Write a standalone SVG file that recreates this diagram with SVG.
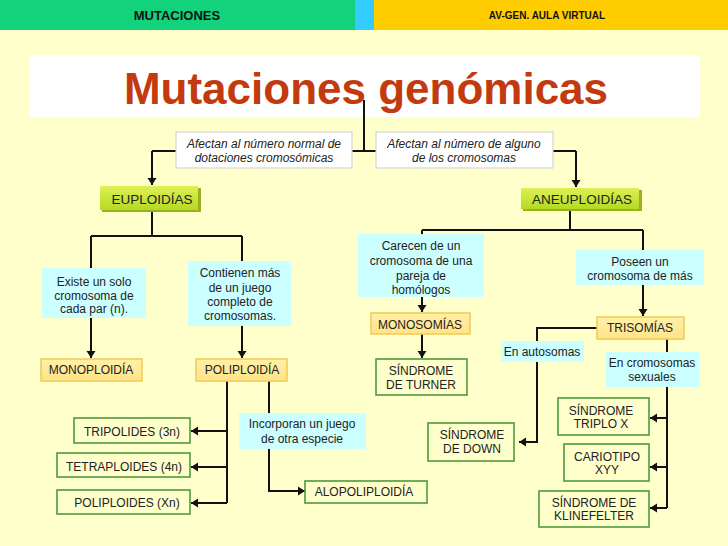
<svg xmlns="http://www.w3.org/2000/svg" width="728" height="546" viewBox="0 0 728 546">
<defs>
<marker id="ah" markerUnits="userSpaceOnUse" markerWidth="8" markerHeight="10" refX="7" refY="5" orient="auto"><path d="M0,0.5 L7,5 L0,9.5 z" fill="#111"/></marker>
<linearGradient id="gg" x1="0" y1="0" x2="0" y2="1"><stop offset="0" stop-color="#DDF055"/><stop offset="1" stop-color="#B5DA22"/></linearGradient>
<linearGradient id="yg" x1="0" y1="0" x2="0" y2="1"><stop offset="0" stop-color="#FFF0A8"/><stop offset="1" stop-color="#FFE488"/></linearGradient>
</defs>
<style>
.t{font-family:"Liberation Sans",Arial,sans-serif;font-size:12px;fill:#222;text-anchor:middle}
.it{font-style:italic}
.big{font-size:13.5px}
.cy{fill:#CCFFFF}
.yl{fill:url(#yg);stroke:#F0CA55;stroke-width:1.5}
.gr{fill:#FFFFCC;stroke:#4E9A3A;stroke-width:1.6}
.wh{fill:#FFFFFF;stroke:#D4D4D4;stroke-width:1.2}
.gb{fill:url(#gg)}
.sh{fill:#9AB020}
.c path{fill:none;stroke:#111;stroke-width:2}
</style>
<rect width="728" height="546" fill="#FFFFCC"/>
<g id="header">
<rect x="0" y="0" width="355" height="30" fill="#12D27C"/>
<rect x="355" y="0" width="19" height="30" fill="#33CCFF"/>
<rect x="374" y="0" width="354" height="30" fill="#FFCC00"/>
<text x="177" y="20" style="font-family:'Liberation Sans',Arial,sans-serif;font-size:13px;font-weight:bold;fill:#111;text-anchor:middle">MUTACIONES</text>
<text x="547" y="19" style="font-family:'Liberation Sans',Arial,sans-serif;font-size:10px;font-weight:bold;fill:#111;text-anchor:middle">AV-GEN. AULA VIRTUAL</text>
</g>
<g id="title">
<rect x="30" y="55" width="670" height="62" fill="#FFFFFF"/>
<text x="366" y="104" style="font-family:'Liberation Sans',Arial,sans-serif;font-size:44px;font-weight:bold;fill:#C33A0E;text-anchor:middle">Mutaciones genómicas</text>
</g>
<g class="c" id="connectors">
<path d="M364,100 V151"/>
<path d="M152,151 H576"/>
<path d="M152,151 V185" marker-end="url(#ah)"/>
<path d="M576,151 V187" marker-end="url(#ah)"/>
<path d="M152,210 V236 M91,236 H242 M91,236 V268 M242,236 V261"/>
<path d="M91,318 V358" marker-end="url(#ah)"/>
<path d="M242,326 V358" marker-end="url(#ah)"/>
<path d="M227,381 V503"/>
<path d="M227,431 H191" marker-end="url(#ah)"/>
<path d="M227,467 H191" marker-end="url(#ah)"/>
<path d="M227,503 H191" marker-end="url(#ah)"/>
<path d="M269,381 V491 H305" marker-end="url(#ah)"/>
<path d="M570,209 V230 M422,230 H643 M422,230 V234 M643,230 V250"/>
<path d="M422,296 V312" marker-end="url(#ah)"/>
<path d="M422,334 V358" marker-end="url(#ah)"/>
<path d="M643,285 V316" marker-end="url(#ah)"/>
<path d="M597,328 H537 V442 H519" marker-end="url(#ah)"/>
<path d="M667,339 V508"/>
<path d="M667,418 H650" marker-end="url(#ah)"/>
<path d="M667,467 H650" marker-end="url(#ah)"/>
<path d="M667,508 H650" marker-end="url(#ah)"/>
</g>
<g id="afectan-normal">
<rect class="wh" x="176" y="132" width="176" height="36"/>
<text class="t it" x="264" y="148">Afectan al número normal de</text>
<text class="t it" x="264" y="162">dotaciones cromosómicas</text>
</g>
<g id="afectan-alguno">
<rect class="wh" x="376" y="132" width="177" height="36"/>
<text class="t it" x="464" y="148">Afectan al número de alguno</text>
<text class="t it" x="464" y="162">de los cromosomas</text>
</g>
<g id="euploidias">
<rect class="sh" x="102" y="188" width="99" height="24"/>
<rect class="gb" x="100" y="186" width="98" height="24"/>
<text class="t big" x="152" y="204">EUPLOIDÍAS</text>
</g>
<g id="aneuploidias">
<rect class="sh" x="523" y="190" width="119" height="21"/>
<rect class="gb" x="521" y="188" width="118" height="21"/>
<text class="t big" x="582" y="204">ANEUPLOIDÍAS</text>
</g>
<g id="existe">
<rect class="cy" x="42" y="268" width="104" height="50"/>
<text class="t" x="94" y="286">Existe un solo</text>
<text class="t" x="94" y="299.5">cromosoma de</text>
<text class="t" x="94" y="313">cada par (n).</text>
</g>
<g id="contienen">
<rect class="cy" x="188" y="261" width="103" height="65"/>
<text class="t" x="240" y="277">Contienen más</text>
<text class="t" x="240" y="291.5">de un juego</text>
<text class="t" x="240" y="306">completo de</text>
<text class="t" x="240" y="320">cromosomas.</text>
</g>
<g id="monoploidia">
<rect class="yl" x="41" y="359" width="101" height="22"/>
<text class="t" x="91" y="374">MONOPLOIDÍA</text>
</g>
<g id="poliploidia">
<rect class="yl" x="196" y="359" width="91" height="22"/>
<text class="t" x="242" y="374">POLIPLOIDÍA</text>
</g>
<g id="tripolides">
<rect class="gr" x="74" y="418" width="116" height="25"/>
<text class="t" x="132" y="436">TRIPOLIDES (3n)</text>
</g>
<g id="tetraploides">
<rect class="gr" x="57" y="453" width="133" height="24"/>
<text class="t" x="124" y="471">TETRAPLOIDES (4n)</text>
</g>
<g id="poliploides">
<rect class="gr" x="57" y="490" width="133" height="24"/>
<text class="t" x="127" y="507">POLIPLOIDES (Xn)</text>
</g>
<g id="incorporan">
<rect class="cy" x="239" y="413" width="127" height="36"/>
<text class="t" x="302" y="428">Incorporan un juego</text>
<text class="t" x="302" y="443">de otra especie</text>
</g>
<g id="alopoliploidia">
<rect class="gr" x="305" y="481" width="122" height="22"/>
<text class="t" x="364" y="496">ALOPOLIPLOIDÍA</text>
</g>
<g id="carecen">
<rect class="cy" x="358" y="234" width="126" height="63"/>
<text class="t" x="421" y="250">Carecen de un</text>
<text class="t" x="421" y="265">cromosoma de una</text>
<text class="t" x="421" y="280">pareja de</text>
<text class="t" x="421" y="294">homólogos</text>
</g>
<g id="monosomias">
<rect class="yl" x="371" y="313" width="99" height="21"/>
<text class="t" x="420" y="329">MONOSOMÍAS</text>
</g>
<g id="turner">
<rect class="gr" x="376" y="359" width="91" height="36"/>
<text class="t" x="421" y="375">SÍNDROME</text>
<text class="t" x="421" y="389">DE TURNER</text>
</g>
<g id="poseen">
<rect class="cy" x="576" y="250" width="128" height="35"/>
<text class="t" x="640" y="266">Poseen un</text>
<text class="t" x="640" y="280">cromosoma de más</text>
</g>
<g id="trisomias">
<rect class="yl" x="597" y="317" width="87" height="22"/>
<text class="t" x="640" y="332">TRISOMÍAS</text>
</g>
<g id="autosomas">
<rect class="cy" x="501" y="341" width="83" height="21"/>
<text class="t" x="542" y="356">En autosomas</text>
</g>
<g id="sexuales">
<rect class="cy" x="606" y="352" width="93" height="35"/>
<text class="t" x="652" y="367">En cromosomas</text>
<text class="t" x="652" y="381">sexuales</text>
</g>
<g id="down">
<rect class="gr" x="428" y="423" width="86" height="38"/>
<text class="t" x="472" y="439">SÍNDROME</text>
<text class="t" x="472" y="453">DE DOWN</text>
</g>
<g id="triplox">
<rect class="gr" x="558" y="398" width="91" height="37"/>
<text class="t" x="601" y="415">SÍNDROME</text>
<text class="t" x="601" y="428">TRIPLO X</text>
</g>
<g id="xyy">
<rect class="gr" x="564" y="444" width="85" height="37"/>
<text class="t" x="607" y="461">CARIOTIPO</text>
<text class="t" x="607" y="474">XYY</text>
</g>
<g id="klinefelter">
<rect class="gr" x="539" y="491" width="110" height="36"/>
<text class="t" x="594" y="507">SÍNDROME DE</text>
<text class="t" x="594" y="520">KLINEFELTER</text>
</g>
</svg>
